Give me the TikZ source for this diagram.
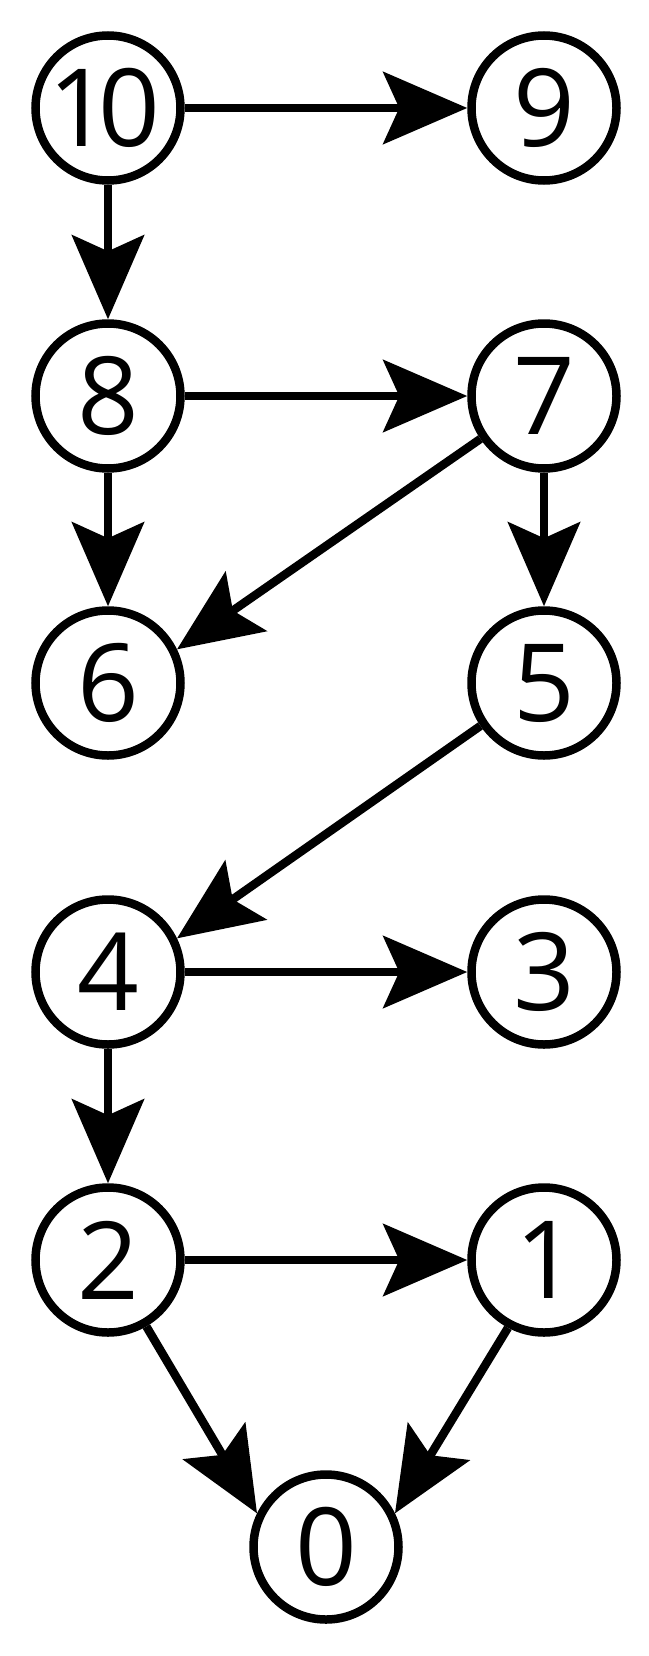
\documentclass[tikz,border=0pt]{standalone}
\usepackage{fontspec}
\setmainfont[Numbers=Proportional]{Open Sans}
\usetikzlibrary{arrows.meta}

\tikzstyle{vertex} = [circle, draw, line width=8.5pt, inner sep=0pt, minimum size=145pt, font=\fontsize{108}{110}\selectfont]
\tikzstyle{edge} = [->, line width=8.5pt]

\begin{document}
\begin{tikzpicture}[x=1pt, y=-1pt, >={Stealth[length=84pt, width=72pt, inset=16pt]}]
		\useasboundingbox (0,0) rectangle (648,1656);
		
		\foreach \n\x\y in {10/108/108, 9/544/108,
			8/108/396, 7/544/396,
			6/108/683, 5/544/683,
			4/108/972, 3/544/972,
			2/108/1260, 1/544/1260}
		\node[vertex] (v\n) at (\x, \y) {\n};
		
		\node[vertex] (v0) at (326, 1547) {0};
		
		\foreach \a\b in {10/9, 10/8, 8/7, 8/6, 7/5,
			4/3, 4/2, 2/1}
		\draw[edge] (v\a) -- (v\b);
		
		\draw[edge] (v7.214) -- (v6.26);
		\draw[edge] (v5.214) -- (v4.26);
		\draw[edge] (v2.-60) -- (v0.154);
		\draw[edge] (v1.-118) -- (v0.26);
		
	\end{tikzpicture}
\end{document}
